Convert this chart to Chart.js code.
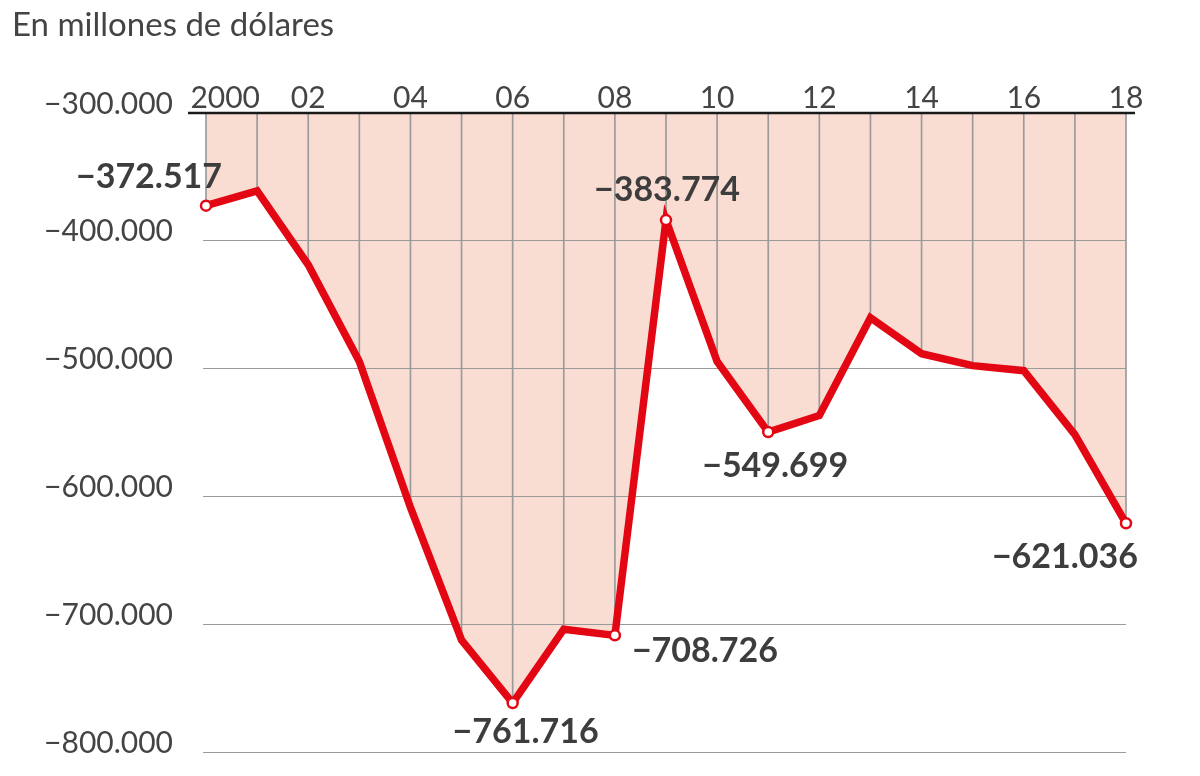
<!DOCTYPE html>
<html>
<head>
<meta charset="utf-8">
<script src="https://cdn.jsdelivr.net/npm/chart.js@4.4.1/dist/chart.umd.min.js"></script>
<style>
  html, body { margin: 0; padding: 0; background: #fff; }
  #wrap { position: relative; width: 1200px; height: 776px; }
  #title { position: absolute; left: 12px; top: 3px; font-family: Lato, sans-serif; font-weight: 400; font-size: 33px; color: #444; white-space: nowrap; }
  canvas { position: absolute; left: 0; top: 0; }
</style>
</head>
<body>
<div id="wrap">
  <canvas id="c" width="1200" height="776"></canvas>
  <div id="title">En millones de dólares</div>
</div>
<script>
// ---- Data ----
const years = [2000, 2001, 2002, 2003, 2004, 2005, 2006, 2007, 2008, 2009,
               2010, 2011, 2012, 2013, 2014, 2015, 2016, 2017, 2018];
const balance = [-372517, -360900, -418750, -494500, -608600, -712500, -761716,
                 -703900, -708726, -383774, -494500, -549699, -536700, -460200,
                 -488300, -497700, -501600, -551600, -621036];
const xTickLabels = ['2000', '', '02', '', '04', '', '06', '', '08', '',
                     '10', '', '12', '', '14', '', '16', '', '18'];
const yTicks = [-300000, -400000, -500000, -600000, -700000, -800000];
const labeledYears = [2000, 2006, 2008, 2009, 2011, 2018];

// ---- Helpers ----
function fmt(v) {
  const s = Math.abs(Math.round(v)).toString().replace(/\B(?=(\d{3})+(?!\d))/g, '.');
  return (v < 0 ? '\u2212' : '') + s;
}
const yMax = Math.max(...yTicks);
const yMin = Math.min(...yTicks);
const RED = '#e30613';

// label placement (style only)
const labelStyle = {
  2000: { dx: -57, dy: -18, align: 'center' },
  2006: { dx: 13, dy: 40, align: 'center' },
  2008: { dx: 17, dy: 27, align: 'left' },
  2009: { dx: 1, dy: -19, align: 'center' },
  2011: { dx: 7, dy: 45, align: 'center' },
  2018: { dx: 12, dy: 45, align: 'right' }
};

const valueLabels = {
  id: 'valueLabels',
  afterDatasetsDraw(chart) {
    const meta = chart.getDatasetMeta(1);
    const ctx = chart.ctx;
    ctx.save();
    ctx.font = 'bold 34px Lato, sans-serif';
    ctx.fillStyle = '#3d3d3d';
    ctx.textBaseline = 'alphabetic';
    labeledYears.forEach(yr => {
      const i = years.indexOf(yr);
      const p = meta.data[i];
      const st = labelStyle[yr];
      ctx.textAlign = st.align;
      ctx.fillText(fmt(balance[i]), p.x + st.dx, p.y + st.dy);
    });
    ctx.restore();
  }
};

const topRule = {
  id: 'topRule',
  afterDraw(chart) {
    const { ctx, chartArea, scales } = chart;
    const y = scales.y.getPixelForValue(yMax);
    ctx.save();
    ctx.strokeStyle = '#1a1a1a';
    ctx.lineWidth = 2.5;
    ctx.beginPath();
    ctx.moveTo(chartArea.left - 18, y);
    ctx.lineTo(chartArea.right + 9, y);
    ctx.stroke();
    ctx.restore();
  }
};

new Chart(document.getElementById('c'), {
  data: {
    labels: years,
    datasets: [
      {
        type: 'bar',
        data: balance.map(v => [yMax, v]),
        backgroundColor: '#9a9a9a',
        borderWidth: 0,
        barThickness: 1,
        grouped: false,
        clip: false,
        order: 2
      },
      {
        type: 'line',
        data: balance,
        borderColor: RED,
        borderWidth: 7.5,
        borderJoinStyle: 'miter',
        tension: 0,
        fill: { value: yMax },
        backgroundColor: '#f9ddd2',
        pointRadius: years.map(y => labeledYears.includes(y) ? 5 : 0),
        pointBackgroundColor: '#fff',
        pointBorderColor: RED,
        pointBorderWidth: 2.5,
        clip: false,
        order: 1
      }
    ]
  },
  options: {
    responsive: false,
    animation: false,
    events: [],
    layout: { padding: { left: 0, right: 74, top: 0, bottom: 24 } },
    plugins: {
      legend: { display: false },
      tooltip: { enabled: false },
      filler: { drawTime: 'beforeDraw' }
    },
    scales: {
      x: {
        type: 'category',
        position: 'top',
        offset: false,
        grid: { display: false, drawTicks: false },
        border: { display: false },
        afterFit: s => { s.height = 113; s.paddingLeft = 0; s.paddingRight = 0; },
        ticks: {
          autoSkip: false,
          maxRotation: 0,
          padding: -3,
          color: '#444',
          font: { family: 'Lato', size: 30, weight: '400' },
          callback: (v, i) => (i === 0 ? '     ' : '') + xTickLabels[i]
        }
      },
      y: {
        min: yMin,
        max: yMax,
        afterFit: s => { s.width = 206; s.paddingTop = 0; s.paddingBottom = 0; },
        afterBuildTicks: s => { s.ticks = yTicks.map(v => ({ value: v })); },
        grid: { color: '#9a9a9a', lineWidth: 1, drawTicks: true, tickLength: 3 },
        border: { display: false },
        ticks: {
          padding: 30,
          labelOffset: -9,
          color: '#444',
          font: { family: 'Lato', size: 30, weight: '400' },
          callback: v => fmt(v)
        }
      }
    }
  },
  plugins: [valueLabels, topRule]
});
</script>
</body>
</html>
